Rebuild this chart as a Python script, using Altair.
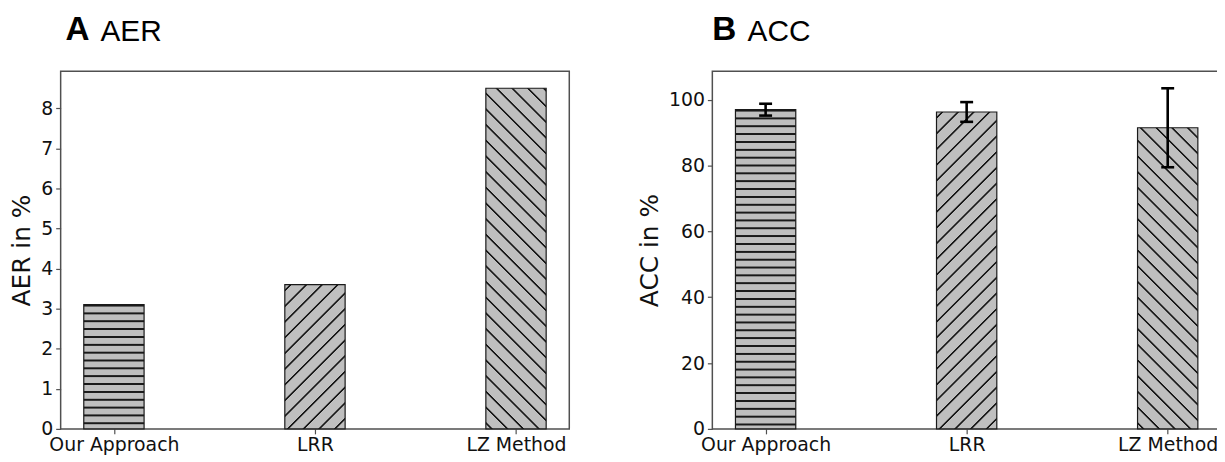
import json
import altair as alt
import pandas as pd

# ---- data ----
categories = ["Our Approach", "LRR", "LZ Method"]
aer_values = [3.1, 3.6, 8.5]
acc_values = [97.0, 96.3, 91.5]
acc_errors = [1.8, 3.0, 12.0]
hatch_styles = ["-", "/", "\\"]
aer_ticks = [0, 1, 2, 3, 4, 5, 6, 7, 8]
acc_ticks = [0, 20, 40, 60, 80, 100]
panel_letters = ["A", "B"]
panel_names = ["AER", "ACC"]
axis_titles = ["AER in %", "ACC in %"]

# ---- style / layout ----
PLOT_W = 512
PLOT_H = 360
BAR_WIDTH = 0.3
FILL = "#bfbfbf"
INK = "#1a1a1a"
FRAME = "#505050"
TICK_FONT = "DejaVu Sans"
TITLE_FONT = "Liberation Sans"
NAME_SIZE = 30
LETTER_SIZE = 33.5
n = len(categories)
x_pad = (n - 1 + BAR_WIDTH) * 0.05
x_domain = [-BAR_WIDTH / 2 - x_pad, n - 1 + BAR_WIDTH / 2 + x_pad]
label_expr = json.dumps(categories) + "[datum.value]"


def hatch_gradient(kind, w, h):
    if kind == "-":
        spacing, core, ramp, length = 7.9, 0.6, 0.8, h
        coords = dict(x1=0, y1=0, x2=0, y2=1)
        u = 0.9
    else:
        spacing, core, ramp, length = 15.8, 0.7, 0.9, w + h
        s = (w + h) / (w * w + h * h)
        if kind == "/":
            coords = dict(x1=0, y1=0, x2=round(w * s, 5), y2=round(h * s, 5))
        else:
            coords = dict(x1=0, y1=1, x2=round(w * s, 5), y2=round(1 - h * s, 5))
        u = 6.0
    stops = [alt.GradientStop(offset=0, color=FILL)]

    def off(v):
        return round(min(1.0, max(0.0, v / length)), 5)

    while u < length:
        stops += [
            alt.GradientStop(offset=off(u - core - ramp), color=FILL),
            alt.GradientStop(offset=off(u - core), color=INK),
            alt.GradientStop(offset=off(u + core), color=INK),
            alt.GradientStop(offset=off(u + core + ramp), color=FILL),
        ]
        u += spacing
    stops.append(alt.GradientStop(offset=1, color=FILL))
    return alt.LinearGradient(gradient="linear", stops=stops, **coords)


def panel(values, errors, ticks, letter, name, ytitle, letter_dx, name_dx):
    errs = errors if errors is not None else [0] * n
    y_max = 1.05 * max(v + e for v, e in zip(values, errs))
    df = pd.DataFrame({"category": categories, "idx": list(range(n)),
                       "value": values, "err": errs})
    base = alt.Chart(df).transform_calculate(
        x0=f"datum.idx - {BAR_WIDTH / 2}",
        x1=f"datum.idx + {BAR_WIDTH / 2}",
        lo="datum.value - datum.err",
        hi="datum.value + datum.err",
    )
    xscale = alt.Scale(domain=x_domain, nice=False, zero=False)
    xaxis = alt.Axis(values=list(range(n)), labelExpr=label_expr, title=None)
    yscale = alt.Scale(domain=[0, y_max], nice=False)
    yaxis = alt.Axis(values=ticks, title=ytitle)

    def X(f):
        return alt.X(f, type="quantitative", scale=xscale, axis=xaxis)

    def Y(f):
        return alt.Y(f, type="quantitative", scale=yscale, axis=yaxis)

    px_per_x = PLOT_W / (x_domain[1] - x_domain[0])
    w_px = BAR_WIDTH * px_per_x
    layers = []
    for i in range(n):
        h_px = values[i] / y_max * PLOT_H
        grad = hatch_gradient(hatch_styles[i], w_px, h_px)
        layers.append(
            base.transform_filter(alt.datum.idx == i)
            .mark_bar(fill=grad, stroke=INK, strokeWidth=1.2)
            .encode(x=X("x0"), x2="x1:Q", y=Y("value"), y2=alt.datum(0))
        )
    if errors is not None:
        layers.append(base.mark_rule(color="black", strokeWidth=2.6)
                      .encode(x=X("idx"), y=Y("lo"), y2="hi:Q"))
        layers.append(base.mark_tick(orient="horizontal", size=13, thickness=2.6, color="black", opacity=1)
                      .encode(x=X("idx"), y=Y("lo")))
        layers.append(base.mark_tick(orient="horizontal", size=13, thickness=2.6, color="black", opacity=1)
                      .encode(x=X("idx"), y=Y("hi")))
    inner = alt.layer(*layers).properties(
        width=PLOT_W, height=PLOT_H,
        title=alt.TitleParams(
            text=name, anchor="start", frame="group", dx=name_dx,
            font=TITLE_FONT, fontSize=NAME_SIZE, fontWeight="normal", color="black",
            baseline="alphabetic", offset=0,
        ),
    )
    return alt.HConcatChart(
        hconcat=[inner],
        title=alt.TitleParams(
            text=letter, anchor="start", frame="group", dx=letter_dx,
            font=TITLE_FONT, fontSize=LETTER_SIZE, fontWeight="bold", color="black",
            baseline="alphabetic", offset=-(0.79 * NAME_SIZE + LETTER_SIZE),
        ),
    )


left = panel(aer_values, None, aer_ticks, panel_letters[0], panel_names[0], axis_titles[0], 5, 40)
right = panel(acc_values, acc_errors, acc_ticks, panel_letters[1], panel_names[1], axis_titles[1], 0, 35.5)

chart = alt.HConcatChart(hconcat=[left, right], spacing=66).properties(
    autosize=alt.AutoSizeParams(type="none"),
    padding={"left": 53, "top": 61, "right": 1164, "bottom": 385},
).configure_view(
    stroke=FRAME, strokeWidth=1.5
).configure_axis(
    grid=False, domain=False,
    ticks=True, tickSize=5, tickColor=FRAME, tickWidth=1.2,
    labelFont=TICK_FONT, labelFontSize=19, labelColor="#111111", labelPadding=2,
    titleFont=TICK_FONT, titleFontSize=25, titleFontWeight="normal", titleColor="#111111",
    titlePadding=6,
).configure_axisY(labelFlush=False, labelPadding=3).configure_axisX(labelFlush=False)

chart.save("out.html", embed_options={"renderer": "svg", "actions": False})
